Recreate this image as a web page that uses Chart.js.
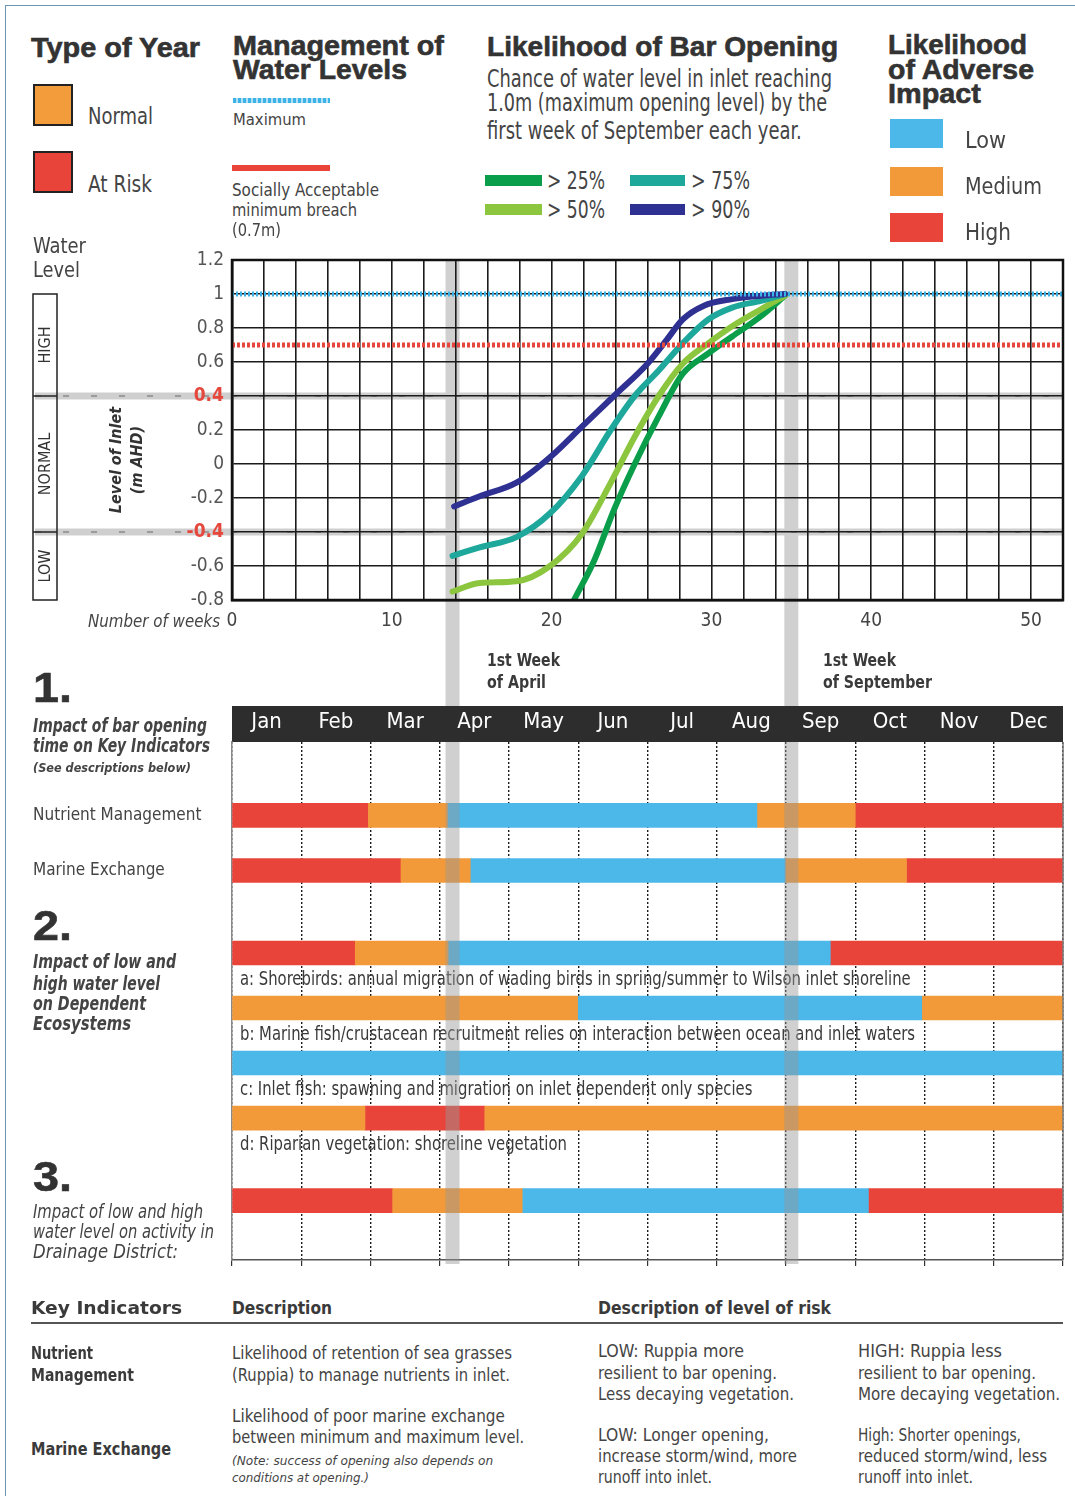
<!DOCTYPE html>
<html>
<head>
<meta charset="utf-8">
<title>Wilson Inlet bar opening</title>
<script src="https://cdn.jsdelivr.net/npm/chart.js@4.4.1/dist/chart.umd.min.js"></script>
<style>
  body { margin: 0; background: #fff; }
  #page { position: relative; width: 1075px; height: 1500px; overflow: hidden; color: #3d3d3d; }
  #frame { position: absolute; left: 5px; top: 5px; width: 1200px; height: 1490px;
           border-left: 1.5px solid #6d95b4; border-top: 1.5px solid #6d95b4; }
  canvas { position: absolute; left: 0; }
  .t { position: absolute; white-space: nowrap; transform-origin: 0 50%; }
  .hd { font-family: "Liberation Sans", Arial, sans-serif; font-weight: bold; color: #333;
        -webkit-text-stroke: 0.6px #333; }
  .n, .nb, .ni, .nbi { font-family: "DejaVu Sans", "Liberation Sans", sans-serif; font-stretch: condensed; }
  .n { color: #444; }
  .nb { font-weight: bold; color: #3a3a3a; }
  .ni { font-style: italic; color: #444; }
  .nbi { font-weight: bold; font-style: italic; color: #444; }
  .sw { position: absolute; }
  #axisTitle { position: absolute; left: 67px; top: 438px; width: 120px; height: 44px; transform: rotate(-90deg);
               text-align: center; font: italic bold 16px/21px "DejaVu Sans", sans-serif; font-stretch: condensed; color: #333; }
</style>
</head>
<body>
<div id="page">
  <div id="frame"></div>
  <canvas id="levelChart" width="1075" height="470" style="top:230px"></canvas>
  <canvas id="impactChart" width="1075" height="580" style="top:700px"></canvas>
  <div id="axisTitle">Level of Inlet<br>(m AHD)</div>
</div>
<script>
// ---- water level chart data (weeks since 1 January, level in m AHD) ----
const weekTicks = [0, 10, 20, 30, 40, 50];
const levelTicks = [-0.8, -0.6, -0.4, -0.2, 0, 0.2, 0.4, 0.6, 0.8, 1, 1.2];
const maxLevel = 1.0;
const minBreachLevel = 0.7;
const zoneLimits = [0.4, -0.4];
const zoneNames = ['HIGH', 'NORMAL', 'LOW'];
const keyWeeks = [13.8, 35];   // 1st week of April, 1st week of September

const weeks90 = [13.9, 15.5, 17.8, 19.9, 21.9, 23.9, 26.0, 27.2, 28.2, 29.5, 31.3, 33.1, 34.6];
const level90 = [-0.25, -0.19, -0.11, 0.04, 0.22, 0.40, 0.59, 0.73, 0.85, 0.93, 0.97, 0.99, 1.0];
const weeks75 = [13.8, 15.5, 17.8, 19.9, 21.9, 23.7, 25.2, 26.7, 28.2, 29.8, 31.3, 33.1, 34.6];
const level75 = [-0.54, -0.49, -0.43, -0.29, -0.07, 0.20, 0.40, 0.55, 0.71, 0.85, 0.92, 0.96, 1.0];
const weeks50 = [13.8, 15.5, 17.8, 19.9, 21.9, 23.7, 25.2, 26.7, 28.2, 29.8, 31.3, 33.1, 34.6];
const level50 = [-0.75, -0.70, -0.69, -0.60, -0.41, -0.11, 0.16, 0.40, 0.59, 0.71, 0.81, 0.91, 0.99];
const weeks25 = [21.4, 22.7, 23.9, 25.2, 26.7, 28.2, 29.8, 31.3, 33.1, 34.6];
const level25 = [-0.80, -0.56, -0.27, 0.0, 0.28, 0.53, 0.65, 0.75, 0.87, 0.99];

// ---- impact timeline data (months from 1 January) ----
const months = ['Jan', 'Feb', 'Mar', 'Apr', 'May', 'Jun', 'Jul', 'Aug', 'Sep', 'Oct', 'Nov', 'Dec'];
const impactLevels = ['Low', 'Medium', 'High'];
const impactColours = { Low: '#4cb8e9', Medium: '#f29a3a', High: '#e9443a' };

const nutrientSegs = [[0, 1.97, 'High'], [1.97, 3.12, 'Medium'], [3.12, 7.58, 'Low'], [7.58, 9.0, 'Medium'], [9.0, 12, 'High']];
const marineSegs = [[0, 2.44, 'High'], [2.44, 3.45, 'Medium'], [3.45, 7.99, 'Low'], [7.99, 9.74, 'Medium'], [9.74, 12, 'High']];
const ecoSegsTop = [[0, 1.78, 'High'], [1.78, 3.13, 'Medium'], [3.13, 8.64, 'Low'], [8.64, 12, 'High']];
const shorebirdSegs = [[0, 5.0, 'Medium'], [5.0, 9.96, 'Low'], [9.96, 12, 'Medium']];
const marineFishSegs = [[0, 12, 'Low']];
const inletFishSegs = [[0, 1.92, 'Medium'], [1.92, 3.65, 'High'], [3.65, 12, 'Medium']];
const drainageSegs = [[0, 2.32, 'High'], [2.32, 4.2, 'Medium'], [4.2, 9.19, 'Low'], [9.19, 12, 'High']];

const barRows = [nutrientSegs, marineSegs, ecoSegsTop, shorebirdSegs, marineFishSegs, inletFishSegs, drainageSegs];
const barRowSlots = [0, 2, 5, 7, 9, 11, 14];
const rowNames = ['Nutrient Management', 'Marine Exchange'];
const rowNameSlots = [0, 2];
const ecoNotes = [
  'a: Shorebirds: annual migration of wading birds in spring/summer to Wilson inlet shoreline',
  'b: Marine fish/crustacean recruitment relies on interaction between ocean and inlet waters',
  'c: Inlet fish: spawning and migration on inlet dependent only species',
  'd: Riparian vegetation: shoreline vegetation'
];
const ecoNoteSlots = [6, 8, 10, 12];

// pick a condensed face for canvas text if the system has one
const probe = document.createElement('canvas').getContext('2d');
probe.font = '20px "DejaVu Sans"';
const wideW = probe.measureText(rowNames[0]).width;
probe.font = 'condensed 20px "DejaVu Sans"';
const condW = probe.measureText(rowNames[0]).width;
const hasCondensed = condW < wideW * 0.95;
const CFAMILY = hasCondensed ? '"DejaVu Sans", sans-serif' : '"Liberation Sans", Arial, sans-serif';
// Chart.js only checks font.style, so the stretch keyword rides along with the weight
const W_NORMAL = hasCondensed ? 'normal condensed' : 'normal';
const W_BOLD = hasCondensed ? 'bold condensed' : 'bold';
const cfont = (size, weight) => `${weight || W_NORMAL} ${size}px ${CFAMILY}`;
const BAND = 'rgba(150,150,150,0.45)';
Chart.defaults.font.family = CFAMILY;
Chart.defaults.font.weight = W_NORMAL;

// ---- page text ----
const page = document.getElementById('page');
function T(txt, x, base, size, w, cls) {
  const d = document.createElement('div');
  d.className = 't ' + cls;
  d.style.left = x + 'px';
  d.style.top = (base - 0.85 * size) + 'px';
  d.style.fontSize = size + 'px';
  d.style.lineHeight = size + 'px';
  d.textContent = txt;
  page.appendChild(d);
  if (w) {
    const r = d.getBoundingClientRect().width;
    d.style.transform = 'scaleX(' + (w / r).toFixed(3) + ')';
  }
  return d;
}
function S(x, y, w, h, bg, extra) {
  const d = document.createElement('div');
  d.className = 'sw';
  Object.assign(d.style, { left: x + 'px', top: y + 'px', width: w + 'px', height: h + 'px', background: bg }, extra || {});
  page.appendChild(d);
}

T('Type of Year', 31, 58, 28, 169, 'hd');
T('Management of', 233, 56, 28, 211, 'hd');
T('Water Levels', 233, 80, 28, 174, 'hd');
T('Likelihood of Bar Opening', 487, 57, 28, 351, 'hd');
T('Likelihood', 888, 55, 28, 139, 'hd');
T('of Adverse', 888, 80, 28, 146, 'hd');
T('Impact', 888, 104, 28, 93, 'hd');

S(33, 84, 36, 38, '#f39c3b', { border: '2px solid #222' });
S(33, 151, 36, 38, '#e9443a', { border: '2px solid #222' });
T('Normal', 88, 125, 23, 65, 'n');
T('At Risk', 88, 193, 23, 64, 'n');

S(233, 98, 97, 5, 'repeating-linear-gradient(90deg, #3bb3e6 0 3px, #b4e0f5 3px 5px)');
T('Maximum', 233, 126, 15, 73, 'n');
S(232, 165, 98, 6, '#e9443a');
T('Socially Acceptable', 232, 196, 17, 147, 'n');
T('minimum breach', 232, 216, 17, 125, 'n');
T('(0.7m)', 232, 236, 17, 49, 'n');

T('Chance of water level in inlet reaching', 487, 87, 25, 345, 'n');
T('1.0m (maximum opening level) by the', 487, 111, 25, 340, 'n');
T('first week of September each year.', 487, 139, 25, 315, 'n');
S(485, 175, 57, 11, '#0a9e4a');
S(630, 175, 55, 11, '#1ea89c');
S(485, 204, 57, 11, '#8cc63e');
S(630, 204, 55, 11, '#2e3192');
T('> 25%', 547, 189, 24, 58, 'n');
T('> 75%', 691, 189, 24, 59, 'n');
T('> 50%', 547, 218, 24, 58, 'n');
T('> 90%', 691, 218, 24, 59, 'n');

S(890, 119, 53, 29, impactColours.Low);
S(890, 167, 53, 29, impactColours.Medium);
S(890, 213, 53, 29, impactColours.High);
T('Low', 965, 149, 23, 41, 'n');
T('Medium', 965, 195, 23, 77, 'n');
T('High', 965, 241, 23, 46, 'n');

T('Water', 33, 254, 22, 53, 'n');
T('Level', 33, 278, 22, 47, 'n');
T('Number of weeks', 88, 627, 18, 132, 'ni');

T('1st Week', 487, 666, 18, 73, 'nb');
T('of April', 487, 688, 18, 59, 'nb');
T('1st Week', 823, 666, 18, 73, 'nb');
T('of September', 823, 688, 18, 109, 'nb');

T('1.', 33, 703, 43, 39, 'hd');
T('Impact of bar opening', 33, 732, 19, 174, 'nbi');
T('time on Key Indicators', 33, 752, 19, 177, 'nbi');
T('(See descriptions below)', 33, 772, 13, 158, 'nbi');
T('2.', 33, 941, 43, 39, 'hd');
T('Impact of low and', 33, 968, 19, 143, 'nbi');
T('high water level', 33, 990, 19, 127, 'nbi');
T('on Dependent', 33, 1010, 19, 113, 'nbi');
T('Ecosystems', 33, 1030, 19, 98, 'nbi');
T('3.', 33, 1192, 43, 39, 'hd');
T('Impact of low and high', 33, 1218, 19, 170, 'ni');
T('water level on activity in', 33, 1238, 19, 181, 'ni');
T('Drainage District:', 33, 1258, 19, 145, 'ni');

T('Key Indicators', 31, 1314, 18, 151, 'nb');
T('Description', 232, 1314, 18, 100, 'nb');
T('Description of level of risk', 598, 1314, 18, 233, 'nb');
S(31, 1322, 1032, 2, '#555');
T('Nutrient', 31, 1359, 17, 62, 'nb');
T('Management', 31, 1381, 17, 103, 'nb');
T('Likelihood of retention of sea grasses', 232, 1359, 17, 280, 'n');
T('(Ruppia) to manage nutrients in inlet.', 232, 1381, 17, 278, 'n');
T('LOW: Ruppia more', 598, 1357, 17, 146, 'n');
T('resilient to bar opening.', 598, 1379, 17, 179, 'n');
T('Less decaying vegetation.', 598, 1400, 17, 196, 'n');
T('HIGH: Ruppia less', 858, 1357, 17, 144, 'n');
T('resilient to bar opening.', 858, 1379, 17, 178, 'n');
T('More decaying vegetation.', 858, 1400, 17, 202, 'n');
T('Marine Exchange', 31, 1455, 17, 140, 'nb');
T('Likelihood of poor marine exchange', 232, 1422, 17, 273, 'n');
T('between minimum and maximum level.', 232, 1443, 17, 292, 'n');
T('(Note: success of opening also depends on', 232, 1465, 12, 261, 'ni');
T('conditions at opening.)', 232, 1482, 12, 137, 'ni');
T('LOW: Longer opening,', 598, 1441, 17, 171, 'n');
T('increase storm/wind, more', 598, 1462, 17, 199, 'n');
T('runoff into inlet.', 598, 1483, 17, 114, 'n');
T('High: Shorter openings,', 858, 1441, 17, 163, 'n');
T('reduced storm/wind, less', 858, 1462, 17, 189, 'n');
T('runoff into inlet.', 858, 1483, 17, 115, 'n');

// ---- water level chart ----
function curve(label, weeks, levels, colour) {
  return {
    label, data: weeks.map((w, i) => ({ x: w, y: levels[i] })),
    borderColor: colour, borderWidth: 6, pointRadius: 0, fill: false,
    cubicInterpolationMode: 'monotone', borderCapStyle: 'round', borderJoinStyle: 'round'
  };
}
const isZone = c => !!(c && c.tick) && zoneLimits.some(z => Math.abs(z - c.tick.value) < 1e-9);

const levelDecor = {
  id: 'levelDecor',
  beforeDraw(chart) {
    const { ctx, chartArea: a, scales: { x, y } } = chart;
    const line = (x1, y1, x2, y2) => { ctx.beginPath(); ctx.moveTo(x1, y1); ctx.lineTo(x2, y2); ctx.stroke(); };
    ctx.save();
    // key weeks carried down into the timeline
    ctx.fillStyle = BAND;
    keyWeeks.forEach(w => { const px = x.getPixelForValue(w); ctx.fillRect(px - 7, a.top, 14, chart.height - a.top); });
    // normal band limits
    zoneLimits.forEach(v => {
      const py = y.getPixelForValue(v);
      ctx.setLineDash([]); ctx.strokeStyle = '#cfcfcf'; ctx.lineWidth = 7; line(35, py, a.right, py);
      ctx.setLineDash([6, 22]); ctx.strokeStyle = '#8a8a8a'; ctx.lineWidth = 1.5; line(35, py, a.right, py);
    });
    // HIGH / NORMAL / LOW box
    const bx = 33, bw = 24;
    const bounds = [maxLevel, ...zoneLimits, y.min];
    const top = y.getPixelForValue(maxLevel), bot = y.getPixelForValue(y.min);
    ctx.setLineDash([]); ctx.strokeStyle = '#222'; ctx.lineWidth = 1.5;
    ctx.strokeRect(bx, top, bw, bot - top);
    zoneLimits.forEach(v => { const py = y.getPixelForValue(v); line(bx, py, bx + bw, py); });
    ctx.fillStyle = '#333'; ctx.font = cfont(16); ctx.textAlign = 'center'; ctx.textBaseline = 'middle';
    zoneNames.forEach((n, i) => {
      const cy = (y.getPixelForValue(bounds[i]) + y.getPixelForValue(bounds[i + 1])) / 2;
      ctx.save(); ctx.translate(bx + bw / 2, cy); ctx.rotate(-Math.PI / 2); ctx.fillText(n, 0, 1); ctx.restore();
    });
    ctx.restore();
  },
  afterDraw(chart) {
    const { ctx, chartArea: a } = chart;
    ctx.save(); ctx.strokeStyle = '#111'; ctx.lineWidth = 2.5;
    ctx.strokeRect(a.left, a.top, a.right - a.left, a.bottom - a.top);
    ctx.restore();
  }
};

new Chart(document.getElementById('levelChart'), {
  type: 'line',
  data: {
    datasets: [
      { label: 'Maximum', data: [{ x: 0, y: maxLevel }, { x: 52, y: maxLevel }], borderColor: '#3bb3e6', borderWidth: 5, borderDash: [2, 2], pointRadius: 0 },
      { label: 'Socially acceptable minimum breach', data: [{ x: 0, y: minBreachLevel }, { x: 52, y: minBreachLevel }], borderColor: '#e5473c', borderWidth: 5, borderDash: [3, 2], pointRadius: 0 },
      curve('> 90%', weeks90, level90, '#2e3192'),
      curve('> 75%', weeks75, level75, '#1ea89c'),
      curve('> 50%', weeks50, level50, '#8cc63e'),
      curve('> 25%', weeks25, level25, '#0a9e4a')
    ]
  },
  options: {
    responsive: false, animation: false,
    layout: { padding: { left: 0, right: 12, top: 30, bottom: 0 } },
    plugins: { legend: { display: false }, tooltip: { enabled: false } },
    scales: {
      x: {
        type: 'linear', min: 0, max: 52,
        ticks: { stepSize: 2, autoSkip: false, maxRotation: 0, padding: 10, color: '#444', font: { size: 19 },
                 callback: v => weekTicks.includes(v) ? String(v) : '' },
        grid: { color: '#1b1b1b', lineWidth: 1.6, drawTicks: false },
        border: { color: '#111', width: 2.5 },
        afterFit: s => { s.height = 100; }
      },
      y: {
        min: -0.8, max: 1.2,
        afterBuildTicks: s => { s.ticks = levelTicks.map(v => ({ value: v })); },
        ticks: { padding: 8, color: c => isZone(c) ? '#e5473c' : '#555',
                 font: c => ({ size: 19, weight: isZone(c) ? W_BOLD : W_NORMAL }),
                 callback: v => String(v) },
        grid: { color: '#1b1b1b', lineWidth: 1.6, drawTicks: false },
        border: { color: '#111', width: 2.5 },
        afterFit: s => { s.width = 232; }
      }
    }
  },
  plugins: [levelDecor]
});

// ---- impact timeline ----
const segmentsFor = level => barRows.flatMap((segs, r) =>
  segs.filter(s => s[2] === level).map(s => ({ x: [s[0], s[1]], y: barRowSlots[r] })));

const impactDecor = {
  id: 'impactDecor',
  beforeDraw(chart) {
    const { ctx, chartArea: a, scales: { x2 } } = chart;
    ctx.save(); ctx.fillStyle = '#2d2d2d';
    ctx.fillRect(a.left, x2.top, a.right - a.left, a.top - x2.top);
    ctx.restore();
  },
  afterDatasetsDraw(chart) {
    const { ctx, chartArea: a, scales: { x, x2, y } } = chart;
    ctx.save();
    ctx.fillStyle = '#3a3a3a'; ctx.font = cfont(19); ctx.textAlign = 'left'; ctx.textBaseline = 'middle';
    // the first note spans to just past the Sep band
    const k = (x.getPixelForValue(9.8) - a.left - 8) / ctx.measureText(ecoNotes[0]).width;
    ecoNotes.forEach((t, i) => {
      ctx.save(); ctx.translate(a.left + 8, y.getPixelForValue(ecoNoteSlots[i])); ctx.scale(k, 1);
      ctx.fillText(t, 0, 0); ctx.restore();
    });
    ctx.fillStyle = BAND;
    keyWeeks.forEach(w => {
      const px = x.getPixelForValue(w * 12 / 52);
      ctx.fillRect(px - 7, 0, 14, x2.top);
      ctx.fillRect(px - 7, a.top, 14, a.bottom - a.top + 4);
    });
    ctx.strokeStyle = '#777'; ctx.lineWidth = 1.5;
    ctx.beginPath(); ctx.moveTo(a.right, a.top); ctx.lineTo(a.right, a.bottom); ctx.stroke();
    ctx.restore();
  }
};

new Chart(document.getElementById('impactChart'), {
  type: 'bar',
  data: {
    datasets: impactLevels.map(level => ({
      label: level, data: segmentsFor(level), backgroundColor: impactColours[level],
      barThickness: 24, grouped: false, borderWidth: 0, xAxisID: 'x', yAxisID: 'y'
    }))
  },
  options: {
    indexAxis: 'y', responsive: false, animation: false,
    layout: { padding: { left: 33, right: 12, top: 6, bottom: 0 } },
    plugins: { legend: { display: false }, tooltip: { enabled: false } },
    scales: {
      x: {
        type: 'linear', position: 'bottom', min: 0, max: 12,
        ticks: { display: false, stepSize: 1 },
        grid: { drawOnChartArea: false, drawTicks: true, tickLength: 6, color: '#333', lineWidth: 1.2 },
        border: { color: '#555', width: 1.5 },
        afterFit: s => { s.height = 20; }
      },
      x2: {
        type: 'category', labels: months, position: 'top', offset: true, z: 1,
        grid: { offset: true, color: '#1a1a1a', lineWidth: 1.4, drawTicks: false },
        border: { display: false, dash: [2, 2] },
        ticks: { color: '#fff', font: { size: hasCondensed ? 22 : 21 }, padding: 7 },
        afterFit: s => { s.height = 36; }
      },
      y: {
        type: 'linear', reverse: true, offset: false, min: -2.67, max: 16.16,
        afterBuildTicks: s => { s.ticks = rowNameSlots.map(v => ({ value: v })); },
        ticks: { crossAlign: 'far', color: '#444', font: { size: 17 },
                 callback: v => rowNames[rowNameSlots.indexOf(v)] },
        grid: { display: false },
        border: { color: '#888', width: 1.5 },
        afterFit: s => { s.width = 199; }
      }
    }
  },
  plugins: [impactDecor]
});
</script>
</body>
</html>
